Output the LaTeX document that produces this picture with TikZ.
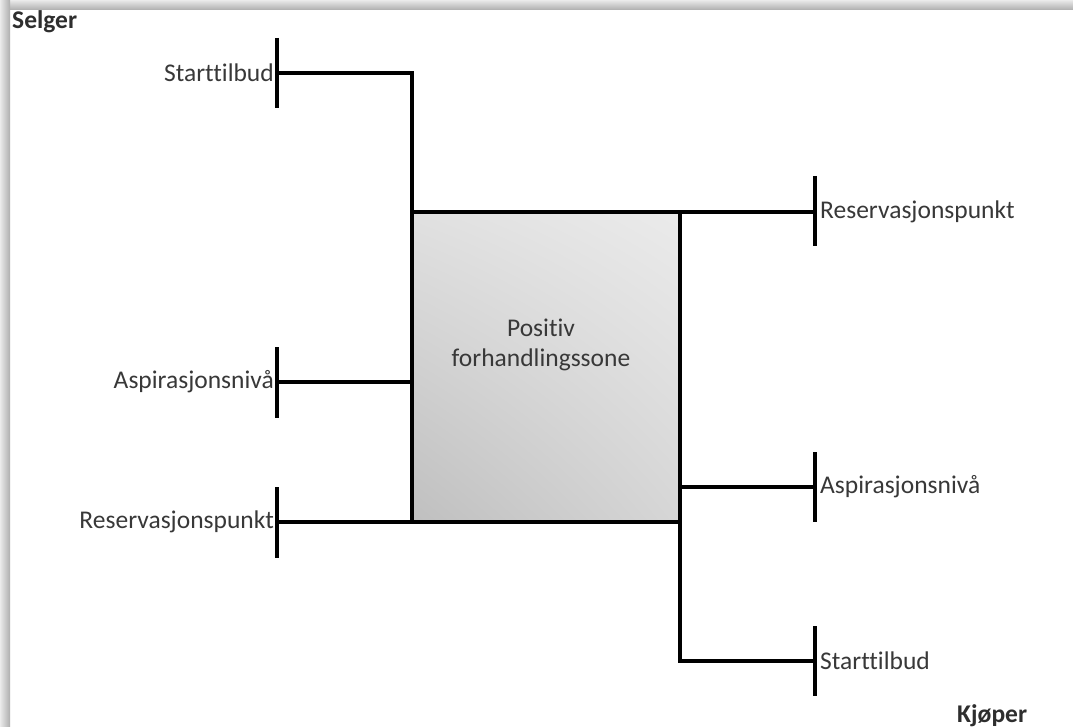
\documentclass[tikz,border=0pt]{standalone}
\usepackage{fontspec}
\setmainfont{Carlito}[Ligatures=NoCommon]
\usetikzlibrary{shadings}
\begin{document}
\begin{tikzpicture}[x=1pt,y=-1pt,
  line/.style={line width=3.5pt,line cap=rect},
  tick/.style={line width=4.5pt},
  lbl/.style={font=\fontsize{25.5}{30}\selectfont,text=black!78,inner sep=0pt},
  role/.style={font=\fontsize{25.5}{30}\selectfont\bfseries,text=black!82,inner sep=0pt},
  zone/.style={draw=black,line width=3.5pt,upper left=black!12,upper right=black!8,lower left=black!25,lower right=black!16}]
\useasboundingbox (0,0) rectangle (1073,727);
% frame shadow
\fill[white] (0,0) rectangle (1073,727);
\shade[top color=black!8,bottom color=black!32] (0,0) rectangle (1073,10);
\shade[left color=black!8,right color=black!32] (0,0) rectangle (10,727);
% zone
\shade[zone] (412,212) rectangle (680,522);
\node[lbl,align=center] (zone) at (541,345) {Positiv\\forhandlingssone};
% coordinates
\coordinate (sTop) at (412,212);
\coordinate (sBot) at (412,522);
\coordinate (kTop) at (680,212);
\coordinate (kBot) at (680,522);
% ticks
\coordinate (t1a) at (277,38);  \coordinate (t1b) at (277,108);
\coordinate (t2a) at (277,347); \coordinate (t2b) at (277,418);
\coordinate (t3a) at (277,487); \coordinate (t3b) at (277,558);
\coordinate (t4a) at (815,176); \coordinate (t4b) at (815,246);
\coordinate (t5a) at (815,452); \coordinate (t5b) at (815,522);
\coordinate (t6a) at (815,626); \coordinate (t6b) at (815,696);
\foreach \a/\b in {t1a/t1b,t2a/t2b,t3a/t3b,t4a/t4b,t5a/t5b,t6a/t6b}
  \draw[tick] (\a) -- (\b);
\coordinate (s1) at (277,73);
\coordinate (s2) at (277,382);
\coordinate (s3) at (277,522);
\coordinate (k1) at (815,212);
\coordinate (k2) at (815,487);
\coordinate (k3) at (815,661);
% connectors
\draw[line] (s1) -| (sTop);
\draw[line] (s2) -- (s2 -| sTop);
\draw[line] (s3) -- (sBot);
\draw[line] (kTop) -- (k1);
\draw[line] (k2 -| kBot) -- (k2);
\draw[line] (kBot) |- (k3);
% labels
\node[lbl,anchor=east] (ls1) at (274,73) {Starttilbud};
\node[lbl,anchor=east] (ls2) at (274,382) {Aspirasjonsnivå};
\node[lbl,anchor=east] (ls3) at (274,522) {Reservasjonspunkt};
\node[lbl,anchor=west] (lk1) at (820,212) {Reservasjonspunkt};
\node[lbl,anchor=west] (lk2) at (820,487) {Aspirasjonsnivå};
\node[lbl,anchor=west] (lk3) at (820,661) {Starttilbud};
\node[role,anchor=west] (selger) at (12,22) {Selger};
\node[role,anchor=west] (kjoper) at (957,716) {Kjøper};
\end{tikzpicture}
\end{document}
